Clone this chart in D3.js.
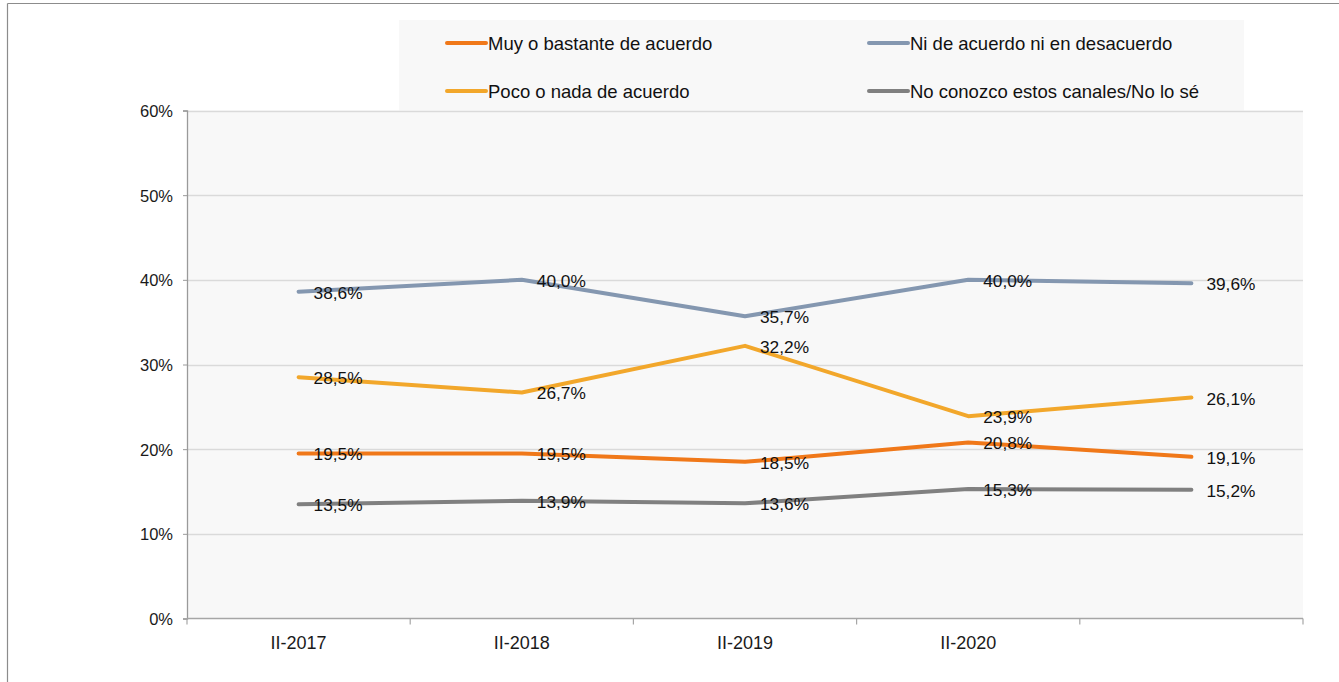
<!DOCTYPE html>
<html>
<head>
<meta charset="utf-8">
<script src="https://cdn.jsdelivr.net/npm/d3@7"></script>
<style>
  html, body { margin: 0; padding: 0; background: #ffffff; }
  svg { display: block; font-family: "Liberation Sans", Arial, sans-serif; }
</style>
</head>
<body>
<svg id="chart" width="1339" height="682"></svg>
<script>
const categories = ["II-2017", "II-2018", "II-2019", "II-2020", ""];
const seriesNames = ["Muy o bastante de acuerdo", "Ni de acuerdo ni en desacuerdo", "Poco o nada de acuerdo", "No conozco estos canales/No lo sé"];
const muyAcuerdo = [19.5, 19.5, 18.5, 20.8, 19.1];
const niAcuerdo = [38.6, 40.0, 35.7, 40.0, 39.6];
const pocoAcuerdo = [28.5, 26.7, 32.2, 23.9, 26.1];
const noConozco = [13.5, 13.9, 13.6, 15.3, 15.2];
const yTicks = [0, 10, 20, 30, 40, 50, 60];
const colors = ["#F07819", "#8497B0", "#F2A72B", "#808080"];

const seriesValues = [muyAcuerdo, niAcuerdo, pocoAcuerdo, noConozco];
const series = seriesNames.map((name, i) => ({ name, values: seriesValues[i], color: colors[i] }));

const svg = d3.select("#chart");
const W = 1339, H = 682;
const plot = { left: 187, right: 1303, top: 110.5, bottom: 618.5 };

// outer frame
svg.append("line").attr("x1", 7.5).attr("x2", W).attr("y1", 3.5).attr("y2", 3.5)
  .attr("stroke", "#8c8c8c").attr("stroke-width", 1.2);
svg.append("line").attr("x1", 7.5).attr("x2", 7.5).attr("y1", 3.5).attr("y2", H)
  .attr("stroke", "#8c8c8c").attr("stroke-width", 1.2);

// plot background
svg.append("rect").attr("x", plot.left).attr("y", plot.top)
  .attr("width", plot.right - plot.left).attr("height", plot.bottom - plot.top)
  .attr("fill", "#f8f8f8");

// legend background
svg.append("rect").attr("x", 399).attr("y", 20).attr("width", 845).attr("height", 91)
  .attr("fill", "#f8f8f8");

const x = d3.scaleBand().domain(d3.range(categories.length)).range([plot.left, plot.right]).padding(0);
const y = d3.scaleLinear().domain([0, 60]).range([plot.bottom, plot.top]);
const cx = i => x(i) + x.bandwidth() / 2;

// gridlines
svg.append("g").selectAll("line").data(yTicks.filter(t => t > 0)).join("line")
  .attr("x1", plot.left).attr("x2", plot.right)
  .attr("y1", d => Math.round(y(d)) + 0.5).attr("y2", d => Math.round(y(d)) + 0.5)
  .attr("stroke", "#dadada").attr("stroke-width", 1.3);

// y axis
const yAxis = d3.axisLeft(y).tickValues(yTicks).tickFormat(d => d + "%").tickSize(4).tickPadding(10);
const gy = svg.append("g").attr("transform", `translate(${plot.left},0)`).call(yAxis);
gy.select(".domain").attr("stroke", "#9a9a9a").attr("stroke-width", 1.3);
gy.selectAll(".tick line").attr("stroke", "#9a9a9a");
gy.selectAll(".tick text").attr("font-size", 16.5).attr("fill", "#1a1a1a")
  .attr("font-family", "Liberation Sans, Arial, sans-serif").attr("dy", "0.36em");

// x axis: ticks at band boundaries
const xb = svg.append("g");
xb.append("line").attr("x1", plot.left).attr("x2", plot.right)
  .attr("y1", plot.bottom).attr("y2", plot.bottom).attr("stroke", "#a6a6a6").attr("stroke-width", 1.5);
const bounds = d3.range(categories.length + 1).map(i => i < categories.length ? x(i) : plot.right);
xb.selectAll("line.tk").data(bounds).join("line").attr("class", "tk")
  .attr("x1", d => d).attr("x2", d => d).attr("y1", plot.bottom).attr("y2", plot.bottom + 6)
  .attr("stroke", "#a6a6a6").attr("stroke-width", 1.2);
xb.selectAll("text").data(categories).join("text")
  .attr("x", (d, i) => cx(i)).attr("y", 649).attr("text-anchor", "middle")
  .attr("font-size", 18).attr("fill", "#1a1a1a").text(d => d);

// lines
const line = d3.line().x((d, i) => cx(i)).y(d => y(d));
const gl = svg.append("g");
series.forEach(s => {
  gl.append("path").datum(s.values).attr("d", line)
    .attr("fill", "none").attr("stroke", s.color).attr("stroke-width", 4)
    .attr("stroke-linejoin", "round").attr("stroke-linecap", "round");
});

// labels
const fmt = v => d3.format(".1f")(v).replace(".", ",") + "%";
series.forEach(s => {
  svg.append("g").selectAll("text").data(s.values).join("text")
    .attr("x", (d, i) => cx(i) + 15).attr("y", d => y(d) + 7)
    .attr("font-size", 17.3).attr("fill", "#111").text(d => fmt(d));
});

// legend
const legendPos = [
  { x: 447, y: 43 }, { x: 869, y: 43 }, { x: 447, y: 91 }, { x: 869, y: 91 }
];
const lg = svg.append("g");
series.forEach((s, i) => {
  const p = legendPos[i];
  lg.append("line").attr("x1", p.x).attr("x2", p.x + 39).attr("y1", p.y).attr("y2", p.y)
    .attr("stroke", s.color).attr("stroke-width", 4).attr("stroke-linecap", "round");
  lg.append("text").attr("x", p.x + 41).attr("y", p.y + 6.5)
    .attr("font-size", 18.5).attr("fill", "#111").text(s.name);
});
</script>
</body>
</html>
